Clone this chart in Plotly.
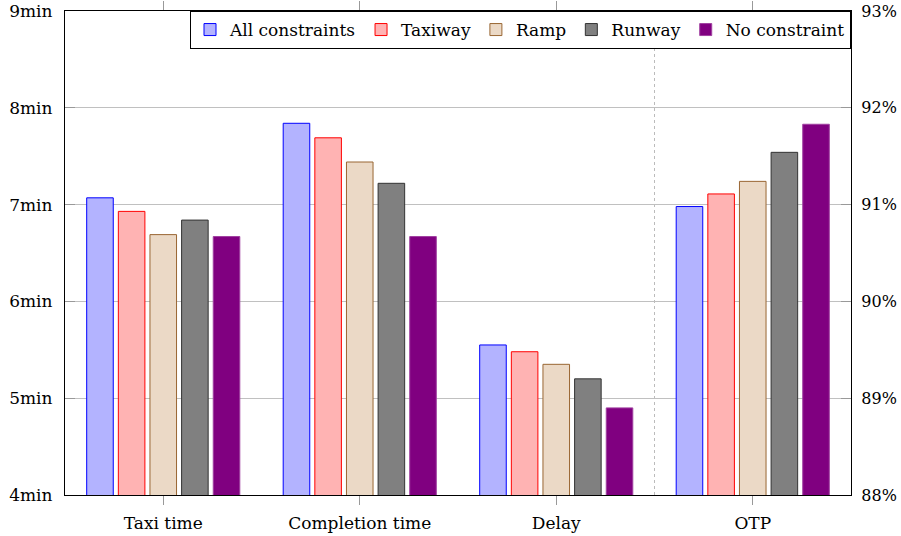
import plotly.graph_objects as go

categories = ["Taxi time", "Completion time", "Delay", "OTP"]
series_names = ["All constraints", "Taxiway", "Ramp", "Runway", "No constraint"]
# minutes for first three categories
minutes = {
    "All constraints": [7.07, 7.84, 5.55],
    "Taxiway": [6.93, 7.69, 5.48],
    "Ramp": [6.69, 7.44, 5.35],
    "Runway": [6.84, 7.22, 5.20],
    "No constraint": [6.67, 6.67, 4.90],
}
# OTP in percent
otp = {
    "All constraints": 90.98,
    "Taxiway": 91.11,
    "Ramp": 91.24,
    "Runway": 91.54,
    "No constraint": 91.83,
}
fills = ["#b3b3ff", "#ffb3b3", "#ebd9c6", "#808080", "#800080"]
lines = ["#0000ff", "#ff0000", "#996633", "#333333", "#a040a0"]

FONT = "'DejaVu Serif', 'Liberation Serif', serif"
fig = go.Figure()
for i, name in enumerate(series_names):
    fig.add_trace(go.Bar(
        x=categories[:3], y=minutes[name], name=name,
        marker=dict(color=fills[i], line=dict(color=lines[i], width=1)),
        legendgroup=name, yaxis="y",
    ))
for i, name in enumerate(series_names):
    fig.add_trace(go.Bar(
        x=[categories[3]], y=[otp[name]], name=name,
        marker=dict(color=fills[i], line=dict(color=lines[i], width=1)),
        legendgroup=name, showlegend=False, yaxis="y2",
    ))

fig.update_layout(
    width=901, height=536,
    margin=dict(l=65, r=50, t=11, b=41, autoexpand=False),
    paper_bgcolor="white", plot_bgcolor="white",
    barmode="group", bargap=0.195, bargroupgap=0.16,
    font=dict(family=FONT, size=17, color="black"),
    xaxis=dict(
        type="category", categoryorder="array", categoryarray=categories,
        range=[-0.5, 3.5], showline=True, linecolor="black", linewidth=1.2,
        mirror="ticks", ticks="outside", tickcolor="#999999", ticklen=9,
        showgrid=False, tickfont=dict(size=17), automargin=False,
        ticklabelstandoff=3,
    ),
    yaxis=dict(
        range=[4, 9], dtick=1, ticksuffix="min", showline=True,
        linecolor="black", linewidth=1.2, ticks="inside", tickcolor="#999999",
        ticklen=10, showgrid=True, gridcolor="#c0c0c0", gridwidth=1,
        zeroline=False, tickfont=dict(size=17), automargin=False,
        ticklabelstandoff=8,
    ),
    yaxis2=dict(
        range=[88, 93], dtick=1, ticksuffix="%", overlaying="y", side="right",
        showline=True, linecolor="black", linewidth=1.2, ticks="inside",
        tickcolor="#999999", ticklen=10, showgrid=False, zeroline=False,
        tickfont=dict(size=16), automargin=False, ticklabelstandoff=6,
    ),
    legend=dict(
        orientation="h", x=1, y=1, xanchor="right", yanchor="top",
        bordercolor="black", borderwidth=1, bgcolor="white",
        font=dict(size=17), itemwidth=30, tracegroupgap=0,
    ),
    shapes=[dict(
        type="line", xref="x", yref="paper", x0=2.5, x1=2.5, y0=0, y1=1,
        line=dict(color="#bbbbbb", width=1, dash="dot"), layer="below",
    )],
)
fig.write_html(
    "out.html",
    config={"displayModeBar": False},
    post_script="document.body.style.margin='0';document.body.style.overflow='hidden';",
)
